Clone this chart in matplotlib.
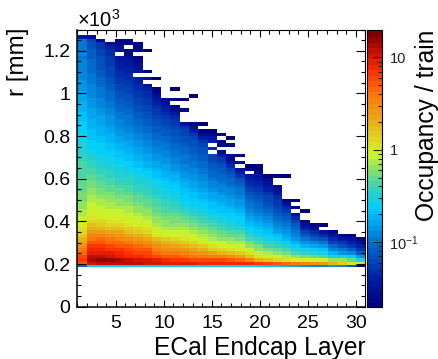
import numpy as np
import matplotlib
matplotlib.use('Agg')
import matplotlib.pyplot as plt
from matplotlib.colors import LinearSegmentedColormap, LogNorm
from matplotlib.ticker import FixedLocator, FuncFormatter, NullFormatter

plt.rcParams['font.family'] = ['Liberation Sans', 'DejaVu Sans']
plt.rcParams['mathtext.default'] = 'regular'

W, H = 439, 359

# colour scale of the z axis
z_min, z_max = 0.02, 20.0
n_levels = 50

# occupancy read off per layer as colour level (0-49) of the z scale, from the
# lowest r bin upwards, -1 is an empty bin
layer_bins = [
    [11, 40,42,41,39,38,36,34,33,31,30, 29,28,27,27,26,26,25,25,24,24, 24,23,23,23,23,22,22,22,22,22,
     21,21,20,20,20,19,19,19,18,18, 18,17,17,17,16,16,16,15,15,15, 14,14,14,13,13,13,13,13,13,12, 13,12,12,12,12,4],
    [18, 45,47,46,44,43,42,40,38,37,35, 33,32,30,29,28,28,27,27,26,26, 25,25,24,24,23,23,22,22,21,21,
     20,20,19,18,18,18,17,17,17,16, 16,16,15,15,15,14,14,14,13,13, 13,13,12,12,12,11,11,11,11,10, 10,10,9,9,8,3],
    [18, 46,48,46,44,43,42,40,39,37,35, 33,31,30,28,28,27,27,26,26,25, 24,24,23,23,22,22,21,21,20,20,
     19,19,18,18,18,17,17,16,16,16, 15,15,15,14,14,13,13,13,12,12, 12,11,11,11,10,10,9,9,9,9, 8,8,7,7,2],
    [18, 46,48,45,44,42,41,39,38,36,34, 32,30,29,28,27,27,26,26,25,25, 24,23,23,22,22,21,21,20,20,19,
     19,18,18,17,17,16,16,16,15,15, 14,14,14,13,13,12,12,11,11,11, 10,10,9,9,8,8,8,7,7,7, 6,6,5,2],
    [18, 46,47,44,43,42,40,39,37,35,34, 32,30,29,28,27,27,26,25,25,24, 23,23,22,21,21,20,20,19,19,18,
     18,17,17,16,16,15,15,14,14,13, 13,13,12,12,11,11,10,10,9,9, 8,8,7,7,6,6,5,5,4,4, -1,3,3,2,1],
    [18, 46,46,43,42,41,40,38,36,34,32, 31,29,28,27,27,26,26,25,24,24, 23,22,22,21,21,20,19,19,18,18,
     17,17,16,16,15,15,14,14,13,13, 12,12,12,11,11,10,10,9,9,8, 8,7,7,6,6,5,5,4,4,3, 2,2,-1,1,1],
    [18, 46,45,43,41,40,39,37,35,33,31, 30,28,27,27,26,25,25,24,23,23, 22,21,21,20,20,19,18,18,17,17,
     16,16,15,15,14,14,13,13,12,12, 11,11,10,10,9,9,8,8,7,7, 6,6,5,5,-1,4,3,3,2,1, -1,1,1,1],
    [18, 45,45,42,41,40,38,36,34,32,30, 29,28,27,26,25,25,24,23,23,22, 21,21,20,20,19,18,18,17,16,16,
     15,15,14,14,13,13,12,12,11,11, 10,10,9,9,8,8,7,7,6,6, 5,4,-1,3,-1,1, -1,-1,-1,-1,-1,0],
    [18, 45,44,41,39,37,36,34,32,29,28, 27,26,25,25,24,23,23,22,22,21, 20,20,19,19,18,17,17,16,15,15,
     14,14,13,13,12,12,11,11,10,10, 9,9,8,7,7,6,5,4,3,1, 1,-1,-1,0],
    [18, 44,43,40,38,36,35,33,31,28,27, 26,25,25,24,23,22,22,21,21,20, 19,19,18,18,17,16,16,15,15,14,
     14,13,13,12,12,11,11,10,10,9, 8,8,7,6,5,4,3,1],
    [18, 44,42,40,38,36,34,32,30,28,27, 26,25,24,24,23,22,21,21,20,19, 19,18,18,17,16,16,15,14,14,13,
     13,12,12,11,11,10,10,9,9,8, 7,7,6,4,2,1, -1,1,-1,-1,0],
    [18, 44,42,39,37,35,33,31,29,27,27, 26,25,24,23,22,21,20,19,18,18, 17,17,16,16,15,14,14,13,13,12,
     12,12,11,11,10,9,9,8,8,7, 3,-1,-1,-1,1,-1,-1,0],
    [18, 44,41,38,36,34,32,30,28,27,26, 25,24,23,22,21,20,19,18,18,17, 17,16,15,15,14,14,13,13,12,12,
     11,11,10,10,9,9,8,7,5,3, 1,-1,-1,-1,-1,-1,-1,-1,0],
    [18, 43,41,38,35,33,31,28,27,26,25, 24,23,22,21,20,19,18,18,17,16, 16,15,14,14,13,13,12,12,11,11,
     10,10,9,9,8,7,5,2,0,-1, 0],
    [18, 43,41,37,34,31,29,27,26,25,24, 23,22,21,20,19,18,17,17,16,15, 15,14,13,13,12,11,11,10,10,9,
     8,8,-1,6,-1,5,4,2,0],
    [18, 43,41,37,33,30,28,27,25,24,23, 22,21,20,19,18,17,17,16,15,15, 14,13,13,12,11,11,10,10,9,8,
     7,5,2,-1,1,1,-1,0],
    [18, 43,40,36,32,29,27,26,25,23,22, 21,20,19,18,18,17,16,15,15,14, 13,13,12,11,11,10,9,8,6,4,
     1,2,-1,-1,1,-1,0],
    [18, 43,39,34,31,28,27,26,24,23,22, 20,19,18,18,17,16,15,14,14,13, 12,12,11,10,9,7,5,3,-1,1,
     -1,0],
    [18, 43,37,32,29,27,25,24,22,21,19, 18,17,16,15,14,13,12,12,11,10, 9,8,7,6,5,4,-1,1,0],
    [18, 42,33,29,27,25,24,22,21,19,18, 17,16,15,14,13,12,11,11,10,9, 8,7,6,5,4,3,2,1,0],
    [17, 41,32,28,26,24,22,21,19,18,17, 16,15,14,13,12,11,10,9,8,8, 7,5,4,3,2,0],
    [17, 40,30,27,25,23,21,20,18,17,15, 14,13,12,11,10,9,8,7,7,6, 4,3,2,-1,-1,0],
    [16, 39,29,26,24,22,20,18,16,15,14, 13,12,11,10,9,7,6,3,1,-1, -1,-1,-1,-1,-1,0],
    [15, 38,28,25,22,20,18,16,14,13,12, 11,10,8,6,3,-1,1,-1,0],
    [14, 37,28,24,21,19,16,14,12,10,8, 5,3,1,-1,-1,0],
    [13, 36,27,23,20,18,15,13,10,8,6, 3,1],
    [13, 35,27,22,19,17,14,12,9,6,3, -1,0],
    [14, 33,25,20,16,13,11,8,6,4,1],
    [13, 31,25,19,14,12,9,7,4,1],
    [10, 29,23,18,13,10,7,5,3,1],
    [1, 27,20,14,10,7,5,3,1],
]

layer_range = [1, 31]
r_bottom_band = [186, 195]  # narrow lowest r bin, mm
r_bin_width = 16.35
r_range = [0, 1300]

x_major = [5, 10, 15, 20, 25, 30]
y_major = [0, 200, 400, 600, 800, 1000, 1200]

# palette stops taken from the colour bar
palette = [
    (0.00, (0, 0, 125)), (0.10, (0, 30, 165)), (0.20, (0, 90, 195)), (0.233, (0, 110, 205)),
    (0.30, (0, 160, 235)), (0.36, (0, 205, 255)), (0.43, (50, 210, 190)), (0.50, (130, 225, 110)),
    (0.56, (210, 245, 40)), (0.63, (225, 205, 30)), (0.70, (235, 160, 20)), (0.78, (250, 120, 10)),
    (0.865, (255, 45, 0)), (0.92, (210, 20, 0)), (1.00, (125, 0, 0)),
]
cmap = LinearSegmentedColormap.from_list(
    'occ', [(f, tuple(v / 255 for v in c)) for f, c in palette], N=n_levels)

n_rows = 67
bins = np.full((n_rows, len(layer_bins)), -1.0)
for i, col in enumerate(layer_bins):
    bins[:len(col), i] = col
occ = z_min * (z_max / z_min) ** ((bins + 0.5) / n_levels)
occ = np.ma.masked_where(bins < 0, occ)

x_edges = np.linspace(layer_range[0], layer_range[1], len(layer_bins) + 1)
r_edges = np.concatenate([[r_bottom_band[0]], r_bottom_band[1] + r_bin_width * np.arange(n_rows)])

fig = plt.figure(figsize=(W / 100, H / 100), dpi=100)


def pixel_axes(x0, x1, y_top, y_bot):
    return fig.add_axes([x0 / W, 1 - y_bot / H, (x1 - x0) / W, (y_bot - y_top) / H])


ax = pixel_axes(77.5, 365.5, 29.5, 306.7)
norm = LogNorm(z_min, z_max)
mesh = ax.pcolormesh(x_edges, r_edges, occ, cmap=cmap, norm=norm, linewidth=0)
ax.set_xlim(layer_range)
ax.set_ylim(r_range)

ax.xaxis.set_major_locator(FixedLocator(x_major))
ax.xaxis.set_minor_locator(FixedLocator(np.arange(1, 32)))
ax.yaxis.set_major_locator(FixedLocator(y_major))
ax.yaxis.set_minor_locator(FixedLocator(np.arange(0, 1301, 50)))
ax.yaxis.set_major_formatter(FuncFormatter(lambda v, p: '%g' % (v / 1000)))
ax.tick_params(axis='x', which='major', direction='in', top=True, length=5.2, width=0.8, labelsize=14, pad=6)
ax.tick_params(axis='x', which='minor', direction='in', top=True, length=2.6, width=0.8)
ax.tick_params(axis='y', which='major', direction='in', right=True, length=6.5, width=0.8, labelsize=14, pad=5)
ax.tick_params(axis='y', which='minor', direction='in', right=True, length=3.2, width=0.8)
for s in ax.spines.values():
    s.set_linewidth(0.8)
ax.spines['left'].set_linewidth(1.1)
ax.spines['bottom'].set_linewidth(1.1)

cax = pixel_axes(367.5, 382.5, 29.5, 306.7)
cb = fig.colorbar(mesh, cax=cax)
cb.solids.set_edgecolor('face')
cax.yaxis.set_major_locator(FixedLocator([0.1, 1, 10]))
cax.yaxis.set_minor_locator(FixedLocator([m * d for d in (0.01, 0.1, 1, 10) for m in range(2, 10)
                                          if z_min <= m * d <= z_max]))
cax.yaxis.set_major_formatter(FuncFormatter(lambda v, p: {0.1: '$10^{-1}$', 1: '1', 10: '10'}[round(v, 1)]))
cax.yaxis.set_minor_formatter(NullFormatter())
cax.tick_params(which='major', direction='in', length=6.5, width=0.8, labelsize=10.5, pad=5, colors='#222222')
cax.tick_params(which='minor', direction='in', length=3, width=0.8, colors='#222222')
cb.outline.set_linewidth(0.8)

fig.text(365.5 / W, 1 - 355 / H, 'ECal Endcap Layer', ha='right', va='baseline', fontsize=17.7)
fig.text(29 / W, 1 - 28 / H, 'r [mm]', rotation=90, ha='right', va='top', fontsize=17.5)
fig.text(439 / W, 1 - 29.5 / H, 'Occupancy / train', rotation=90, ha='right', va='top', fontsize=17.7)
fig.text(77 / W, 1 - 27 / H, r'$\times10^{3}$', ha='left', va='baseline', fontsize=14.5)

fig.savefig('out.png', dpi=100)
